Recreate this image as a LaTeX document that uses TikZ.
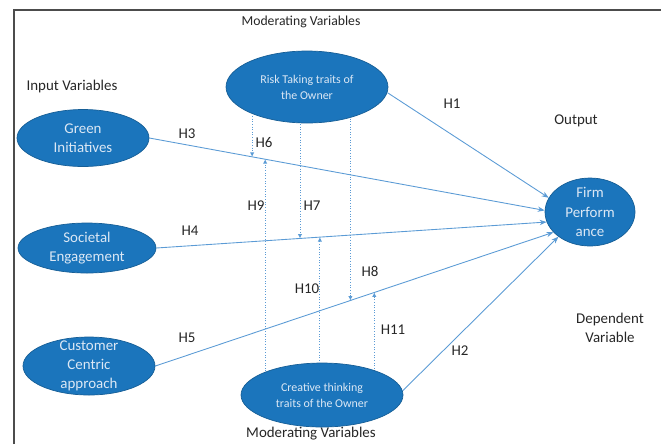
\documentclass[tikz,border=0pt]{standalone}
\usepackage{xcolor}
\usepackage{fontspec}
\setmainfont{Carlito}
\usetikzlibrary{arrows.meta,shapes.geometric,backgrounds}

\definecolor{ovalblue}{HTML}{1B75BC}
\definecolor{ovaltext}{HTML}{DCE8F5}
\definecolor{linkblue}{HTML}{5B9BD5}
\definecolor{labelgray}{HTML}{262626}

\begin{document}
\begin{tikzpicture}[x=0.02cm,y=-0.02cm,
  oval/.style={ellipse,fill=ovalblue,draw=ovalblue!80!black,line width=0.4pt,inner sep=0pt},
  ovaltxt/.style={text=ovaltext,align=center,font=\fontsize{8.5}{11}\selectfont},
  smalltxt/.style={text=ovaltext,align=center,font=\fontsize{6.8}{9}\selectfont},
  hyp/.style={text=labelgray,font=\fontsize{8.5}{11}\selectfont},
  link/.style={linkblue,line width=0.5pt,-{Stealth[length=4pt,width=3pt]}},
  modlink/.style={linkblue,line width=0.5pt,densely dotted,-{Latex[length=2.5pt,width=2.5pt]}}]
  \useasboundingbox (0,0) rectangle (661,444);
  \draw[gray!60!black,line width=0.8pt] (14,444) -- (14,10) -- (661,10);

  \node[hyp,font=\fontsize{7.8}{10}\selectfont] (modtop) at (301,22) {Moderating Variables};
  \node[hyp] (input) at (72,87) {Input Variables};
  \node[hyp] (output) at (576,121) {Output};
  \node[hyp,align=center] (dep) at (610,328) {Dependent\\Variable};
  \node[hyp] (modbot) at (311,434) {Moderating Variables};

  \node[oval,minimum width=3.24cm,minimum height=1.44cm,
    label={[smalltxt]center:Risk Taking traits of\\the Owner}] (risk) at (307,87) {};
  \node[oval,minimum width=2.64cm,minimum height=1.14cm,
    label={[ovaltxt]center:Green\\Initiatives}] (green) at (83,138) {};
  \node[oval,minimum width=2.76cm,minimum height=1.0cm,
    label={[ovaltxt]center:Societal\\Engagement}] (soc) at (87,248) {};
  \node[oval,minimum width=2.64cm,minimum height=1.16cm,
    label={[ovaltxt]center:Customer\\Centric\\approach}] (cust) at (89,366) {};
  \node[oval,minimum width=1.8cm,minimum height=1.36cm,
    label={[ovaltxt]center:Firm\\Perform\\ance}] (firm) at (590,212) {};
  \node[oval,minimum width=3.24cm,minimum height=1.28cm,
    label={[smalltxt]center:Creative thinking\\traits of the Owner}] (creat) at (322,395) {};

  \begin{pgfonlayer}{background}
    \draw[link] (risk.356) -- (firm.161);
    \draw[link] (green.east) -- coordinate[pos=0.26] (m6) coordinate[pos=0.293] (m9) (firm.178);
    \draw[link] (soc.east) -- coordinate[pos=0.368] (m7) coordinate[pos=0.419] (m10) (firm.193);
    \draw[link] (cust.east) -- coordinate[pos=0.49] (m8) coordinate[pos=0.55] (m11) (firm.209);
    \draw[link] (creat.3) -- (firm.218);

    \draw[modlink] (m6 |- risk.center) -- (m6);
    \draw[modlink] (m7 |- risk.center) -- (m7);
    \draw[modlink] (m8 |- risk.center) -- (m8);
    \draw[modlink] (m9 |- creat.center) -- (m9);
    \draw[modlink] (m10 |- creat.center) -- (m10);
    \draw[modlink] (m11 |- creat.center) -- (m11);
  \end{pgfonlayer}

  \node[hyp] (h1) at (452,104) {H1};
  \node[hyp] (h2) at (460,351) {H2};
  \node[hyp] (h3) at (187,134) {H3};
  \node[hyp] (h4) at (190,231) {H4};
  \node[hyp] (h5) at (187,338) {H5};
  \node[hyp] (h6) at (264,143) {H6};
  \node[hyp] (h7) at (312,206) {H7};
  \node[hyp] (h8) at (370,271) {H8};
  \node[hyp] (h9) at (256,206) {H9};
  \node[hyp] (h10) at (307,289) {H10};
  \node[hyp] (h11) at (393,330) {H11};
\end{tikzpicture}
\end{document}
